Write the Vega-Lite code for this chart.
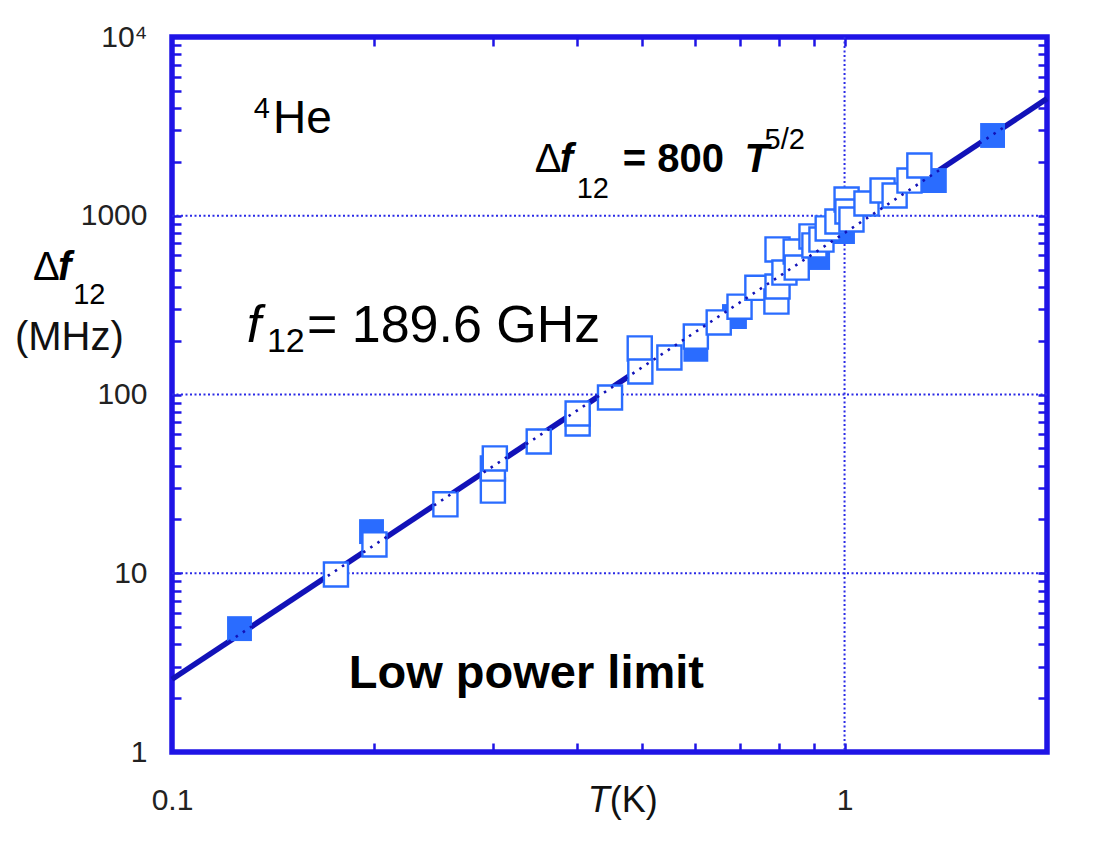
{
  "$schema": "https://vega.github.io/schema/vega-lite/v6.json",
  "width": 875,
  "height": 715,
  "autosize": {"type": "none"},
  "padding": {"left": 172, "top": 37, "right": 66, "bottom": 89},
  "background": "white",
  "config": {
    "view": {"stroke": "#1f14e6", "strokeWidth": 5.5},
    "axis": {
      "domain": false,
      "grid": false,
      "tickColor": "#1f14e6",
      "tickWidth": 2.5,
      "tickSize": -9,
      "labelFont": "Liberation Sans Narrow, Liberation Sans",
      "labelFontSize": 30,
      "labelColor": "#222222",
      "labelOverlap": false,
      "labelFlush": false
    }
  },
  "datasets": {
    "points": [
      {"T": 0.126, "F": 4.9, "kind": "filled"},
      {"T": 0.198, "F": 17.1, "kind": "filled"},
      {"T": 0.497, "F": 142, "kind": "filled"},
      {"T": 0.601, "F": 179, "kind": "filled"},
      {"T": 0.686, "F": 273, "kind": "filled"},
      {"T": 0.912, "F": 584, "kind": "filled"},
      {"T": 0.993, "F": 816, "kind": "filled"},
      {"T": 1.36, "F": 1574, "kind": "filled"},
      {"T": 1.66, "F": 2812, "kind": "filled"},
      {"T": 0.1753, "F": 9.84, "kind": "open"},
      {"T": 0.2, "F": 14.5, "kind": "open"},
      {"T": 0.255, "F": 24.3, "kind": "open"},
      {"T": 0.3, "F": 29.0, "kind": "open"},
      {"T": 0.3, "F": 38.5, "kind": "open"},
      {"T": 0.302, "F": 43.9, "kind": "open"},
      {"T": 0.351, "F": 54.6, "kind": "open"},
      {"T": 0.401, "F": 68.8, "kind": "open"},
      {"T": 0.401, "F": 78.3, "kind": "open"},
      {"T": 0.448, "F": 96.2, "kind": "open"},
      {"T": 0.496, "F": 181, "kind": "open"},
      {"T": 0.497, "F": 134.5, "kind": "open"},
      {"T": 0.549, "F": 161, "kind": "open"},
      {"T": 0.601, "F": 211, "kind": "open"},
      {"T": 0.65, "F": 253, "kind": "open"},
      {"T": 0.698, "F": 310, "kind": "open"},
      {"T": 0.742, "F": 395, "kind": "open"},
      {"T": 0.792, "F": 331, "kind": "open"},
      {"T": 0.795, "F": 402, "kind": "open"},
      {"T": 0.795, "F": 648, "kind": "open"},
      {"T": 0.814, "F": 481, "kind": "open"},
      {"T": 0.846, "F": 631, "kind": "open"},
      {"T": 0.849, "F": 513, "kind": "open"},
      {"T": 0.893, "F": 766, "kind": "open"},
      {"T": 0.902, "F": 682, "kind": "open"},
      {"T": 0.924, "F": 736, "kind": "open"},
      {"T": 0.944, "F": 849, "kind": "open"},
      {"T": 0.976, "F": 929, "kind": "open"},
      {"T": 1.007, "F": 1233, "kind": "open"},
      {"T": 1.01, "F": 1056, "kind": "open"},
      {"T": 1.024, "F": 953, "kind": "open"},
      {"T": 1.078, "F": 1171, "kind": "open"},
      {"T": 1.139, "F": 1384, "kind": "open"},
      {"T": 1.187, "F": 1298, "kind": "open"},
      {"T": 1.249, "F": 1574, "kind": "open"},
      {"T": 1.292, "F": 1910, "kind": "open"}
    ],
    "fitThick": [
      {"T": 0.1, "F": 2.55, "seg": "a"},
      {"T": 0.48, "F": 128, "seg": "a"},
      {"T": 1.38, "F": 1790, "seg": "b"},
      {"T": 2.0, "F": 4520, "seg": "b"}
    ],
    "fitDotted": [
      {"T": 0.1, "F": 2.55},
      {"T": 2.0, "F": 4520}
    ],
    "gridX": [{"T": 1}],
    "gridY": [{"F": 10}, {"F": 100}, {"F": 1000}],
    "texts": [
      {"T": 0.1323, "F": 3501, "t": "4", "g": "sup"},
      {"T": 0.1413, "F": 2922, "t": "He", "g": "he"},
      {"T": 0.3462, "F": 1746, "t": "Δ", "g": "delta"},
      {"T": 0.3771, "F": 1746, "t": "f", "g": "boldit"},
      {"T": 0.3997, "F": 1265, "t": "12", "g": "sup"},
      {"T": 0.4679, "F": 1746, "t": "= 800", "g": "bold"},
      {"T": 0.7101, "F": 1746, "t": "T", "g": "boldit"},
      {"T": 0.7606, "F": 2348, "t": "5/2", "g": "sup"},
      {"T": 0.1292, "F": 197.9, "t": "f", "g": "bigit"},
      {"T": 0.1384, "F": 174.0, "t": "12", "g": "sub34"},
      {"T": 0.1587, "F": 197.9, "t": "= 189.6 GHz", "g": "big"},
      {"T": 0.1832, "F": 2.295, "t": "Low power limit", "g": "low"},
      {"T": 0.06215, "F": 439.9, "t": "Δ", "g": "delta"},
      {"T": 0.0677, "F": 439.9, "t": "f", "g": "boldit"},
      {"T": 0.0713, "F": 318.8, "t": "12", "g": "sup"},
      {"T": 0.0584, "F": 178.5, "t": "(MHz)", "g": "mhz"},
      {"T": 0.415, "F": 0.4646, "t": "T", "g": "xt"},
      {"T": 0.4475, "F": 0.4646, "t": "(K)", "g": "xk"}
    ]
  },
  "layer": [
    {
      "data": {"name": "gridX"},
      "mark": {"type": "rule", "color": "#2a2ae6", "strokeWidth": 2, "strokeDash": [2, 2.5]},
      "encoding": {
        "x": {"field": "T", "type": "quantitative", "scale": {"type": "log", "domain": [0.1, 2], "nice": false}, "axis": null}
      }
    },
    {
      "data": {"name": "gridY"},
      "mark": {"type": "rule", "color": "#2a2ae6", "strokeWidth": 2, "strokeDash": [2, 2.5]},
      "encoding": {
        "y": {"field": "F", "type": "quantitative", "scale": {"type": "log", "domain": [1, 10000], "nice": false}, "axis": null}
      }
    },
    {
      "data": {"name": "fitThick"},
      "mark": {"type": "line", "color": "#1212b8", "strokeWidth": 5.5},
      "encoding": {
        "x": {"field": "T", "type": "quantitative", "scale": {"type": "log", "domain": [0.1, 2], "nice": false}, "axis": null},
        "y": {"field": "F", "type": "quantitative", "scale": {"type": "log", "domain": [1, 10000], "nice": false}, "axis": null},
        "detail": {"field": "seg"}
      }
    },
    {
      "data": {"name": "points"},
      "transform": [{"filter": "datum.kind == 'filled'"}],
      "mark": {"type": "point", "shape": "square", "filled": true, "color": "#2a6cff", "opacity": 1, "size": 620},
      "encoding": {
        "x": {"field": "T", "type": "quantitative", "scale": {"type": "log", "domain": [0.1, 2], "nice": false},
          "axis": {"orient": "top", "labels": false, "title": null, "values": [0.2, 0.3, 0.4, 0.5, 0.6, 0.7, 0.8, 0.9, 1]}},
        "y": {"field": "F", "type": "quantitative", "scale": {"type": "log", "domain": [1, 10000], "nice": false},
          "axis": {"orient": "right", "labels": false, "title": null,
            "values": [2, 3, 4, 5, 6, 7, 8, 9, 10, 20, 30, 40, 50, 60, 70, 80, 90, 100, 200, 300, 400, 500, 600, 700, 800, 900, 1000, 2000, 3000, 4000, 5000, 6000, 7000, 8000, 9000]}}
      }
    },
    {
      "data": {"name": "points"},
      "transform": [{"filter": "datum.kind == 'open'"}],
      "mark": {"type": "point", "shape": "square", "filled": false, "fill": "white", "fillOpacity": 1, "stroke": "#2a6cff", "strokeWidth": 2.4, "opacity": 1, "size": 580},
      "encoding": {
        "x": {"field": "T", "type": "quantitative", "scale": {"type": "log", "domain": [0.1, 2], "nice": false},
          "axis": {"orient": "bottom", "title": null, "format": "~g", "labelPadding": 42,
            "values": [0.1, 0.2, 0.3, 0.4, 0.5, 0.6, 0.7, 0.8, 0.9, 1],
            "labelExpr": "datum.value == 0.1 || datum.value == 1 ? datum.label : ''"}},
        "y": {"field": "F", "type": "quantitative", "scale": {"type": "log", "domain": [1, 10000], "nice": false},
          "axis": {"orient": "left", "title": null, "format": "d", "labelPadding": 34,
            "values": [1, 2, 3, 4, 5, 6, 7, 8, 9, 10, 20, 30, 40, 50, 60, 70, 80, 90, 100, 200, 300, 400, 500, 600, 700, 800, 900, 1000, 2000, 3000, 4000, 5000, 6000, 7000, 8000, 9000, 10000],
            "labelExpr": "datum.value == 10000 ? '10⁴' : (datum.value == 1 || datum.value == 10 || datum.value == 100 || datum.value == 1000 ? datum.label : '')"}}
      }
    },
    {
      "data": {"name": "fitDotted"},
      "mark": {"type": "line", "color": "#1212b8", "strokeWidth": 2.6, "strokeDash": [2.5, 6]},
      "encoding": {
        "x": {"field": "T", "type": "quantitative", "scale": {"type": "log", "domain": [0.1, 2], "nice": false}, "axis": null},
        "y": {"field": "F", "type": "quantitative", "scale": {"type": "log", "domain": [1, 10000], "nice": false}, "axis": null}
      }
    },
    {
      "data": {"name": "texts"},
      "transform": [{"filter": "datum.g == 'sup'"}],
      "mark": {"type": "text", "align": "left", "baseline": "alphabetic", "font": "Liberation Sans", "fontSize": 29, "color": "#000000"},
      "encoding": {
        "x": {"field": "T", "type": "quantitative", "scale": {"type": "log", "domain": [0.1, 2], "nice": false}, "axis": null},
        "y": {"field": "F", "type": "quantitative", "scale": {"type": "log", "domain": [1, 10000], "nice": false}, "axis": null},
        "text": {"field": "t"}
      }
    },
    {
      "data": {"name": "texts"},
      "transform": [{"filter": "datum.g == 'sub34'"}],
      "mark": {"type": "text", "align": "left", "baseline": "alphabetic", "font": "Liberation Sans", "fontSize": 34, "color": "#000000"},
      "encoding": {
        "x": {"field": "T", "type": "quantitative", "scale": {"type": "log", "domain": [0.1, 2], "nice": false}, "axis": null},
        "y": {"field": "F", "type": "quantitative", "scale": {"type": "log", "domain": [1, 10000], "nice": false}, "axis": null},
        "text": {"field": "t"}
      }
    },
    {
      "data": {"name": "texts"},
      "transform": [{"filter": "datum.g == 'he'"}],
      "mark": {"type": "text", "align": "left", "baseline": "alphabetic", "font": "Liberation Sans", "fontSize": 46, "color": "#000000"},
      "encoding": {
        "x": {"field": "T", "type": "quantitative", "scale": {"type": "log", "domain": [0.1, 2], "nice": false}, "axis": null},
        "y": {"field": "F", "type": "quantitative", "scale": {"type": "log", "domain": [1, 10000], "nice": false}, "axis": null},
        "text": {"field": "t"}
      }
    },
    {
      "data": {"name": "texts"},
      "transform": [{"filter": "datum.g == 'big'"}],
      "mark": {"type": "text", "align": "left", "baseline": "alphabetic", "font": "Liberation Sans", "fontSize": 52, "color": "#000000"},
      "encoding": {
        "x": {"field": "T", "type": "quantitative", "scale": {"type": "log", "domain": [0.1, 2], "nice": false}, "axis": null},
        "y": {"field": "F", "type": "quantitative", "scale": {"type": "log", "domain": [1, 10000], "nice": false}, "axis": null},
        "text": {"field": "t"}
      }
    },
    {
      "data": {"name": "texts"},
      "transform": [{"filter": "datum.g == 'bigit'"}],
      "mark": {"type": "text", "align": "left", "baseline": "alphabetic", "font": "Liberation Sans", "fontSize": 52, "fontStyle": "italic", "color": "#000000"},
      "encoding": {
        "x": {"field": "T", "type": "quantitative", "scale": {"type": "log", "domain": [0.1, 2], "nice": false}, "axis": null},
        "y": {"field": "F", "type": "quantitative", "scale": {"type": "log", "domain": [1, 10000], "nice": false}, "axis": null},
        "text": {"field": "t"}
      }
    },
    {
      "data": {"name": "texts"},
      "transform": [{"filter": "datum.g == 'delta'"}],
      "mark": {"type": "text", "align": "left", "baseline": "alphabetic", "font": "Liberation Sans", "fontSize": 40, "color": "#000000"},
      "encoding": {
        "x": {"field": "T", "type": "quantitative", "scale": {"type": "log", "domain": [0.1, 2], "nice": false}, "axis": null},
        "y": {"field": "F", "type": "quantitative", "scale": {"type": "log", "domain": [1, 10000], "nice": false}, "axis": null},
        "text": {"field": "t"}
      }
    },
    {
      "data": {"name": "texts"},
      "transform": [{"filter": "datum.g == 'bold'"}],
      "mark": {"type": "text", "align": "left", "baseline": "alphabetic", "font": "Liberation Sans", "fontSize": 40, "fontWeight": "bold", "color": "#000000"},
      "encoding": {
        "x": {"field": "T", "type": "quantitative", "scale": {"type": "log", "domain": [0.1, 2], "nice": false}, "axis": null},
        "y": {"field": "F", "type": "quantitative", "scale": {"type": "log", "domain": [1, 10000], "nice": false}, "axis": null},
        "text": {"field": "t"}
      }
    },
    {
      "data": {"name": "texts"},
      "transform": [{"filter": "datum.g == 'boldit'"}],
      "mark": {"type": "text", "align": "left", "baseline": "alphabetic", "font": "Liberation Sans", "fontSize": 40, "fontWeight": "bold", "fontStyle": "italic", "color": "#000000"},
      "encoding": {
        "x": {"field": "T", "type": "quantitative", "scale": {"type": "log", "domain": [0.1, 2], "nice": false}, "axis": null},
        "y": {"field": "F", "type": "quantitative", "scale": {"type": "log", "domain": [1, 10000], "nice": false}, "axis": null},
        "text": {"field": "t"}
      }
    },
    {
      "data": {"name": "texts"},
      "transform": [{"filter": "datum.g == 'low'"}],
      "mark": {"type": "text", "align": "left", "baseline": "alphabetic", "font": "Liberation Sans", "fontSize": 47, "fontWeight": "bold", "color": "#000000"},
      "encoding": {
        "x": {"field": "T", "type": "quantitative", "scale": {"type": "log", "domain": [0.1, 2], "nice": false}, "axis": null},
        "y": {"field": "F", "type": "quantitative", "scale": {"type": "log", "domain": [1, 10000], "nice": false}, "axis": null},
        "text": {"field": "t"}
      }
    },
    {
      "data": {"name": "texts"},
      "transform": [{"filter": "datum.g == 'mhz'"}],
      "mark": {"type": "text", "align": "left", "baseline": "alphabetic", "font": "Liberation Sans", "fontSize": 40, "color": "#111111"},
      "encoding": {
        "x": {"field": "T", "type": "quantitative", "scale": {"type": "log", "domain": [0.1, 2], "nice": false}, "axis": null},
        "y": {"field": "F", "type": "quantitative", "scale": {"type": "log", "domain": [1, 10000], "nice": false}, "axis": null},
        "text": {"field": "t"}
      }
    },
    {
      "data": {"name": "texts"},
      "transform": [{"filter": "datum.g == 'xt'"}],
      "mark": {"type": "text", "align": "left", "baseline": "alphabetic", "font": "Liberation Sans Narrow, Liberation Sans", "fontSize": 36, "fontStyle": "italic", "color": "#111111"},
      "encoding": {
        "x": {"field": "T", "type": "quantitative", "scale": {"type": "log", "domain": [0.1, 2], "nice": false}, "axis": null},
        "y": {"field": "F", "type": "quantitative", "scale": {"type": "log", "domain": [1, 10000], "nice": false}, "axis": null},
        "text": {"field": "t"}
      }
    },
    {
      "data": {"name": "texts"},
      "transform": [{"filter": "datum.g == 'xk'"}],
      "mark": {"type": "text", "align": "left", "baseline": "alphabetic", "font": "Liberation Sans Narrow, Liberation Sans", "fontSize": 36, "color": "#111111"},
      "encoding": {
        "x": {"field": "T", "type": "quantitative", "scale": {"type": "log", "domain": [0.1, 2], "nice": false}, "axis": null},
        "y": {"field": "F", "type": "quantitative", "scale": {"type": "log", "domain": [1, 10000], "nice": false}, "axis": null},
        "text": {"field": "t"}
      }
    }
  ],
  "resolve": {"axis": {"x": "independent", "y": "independent"}}
}
